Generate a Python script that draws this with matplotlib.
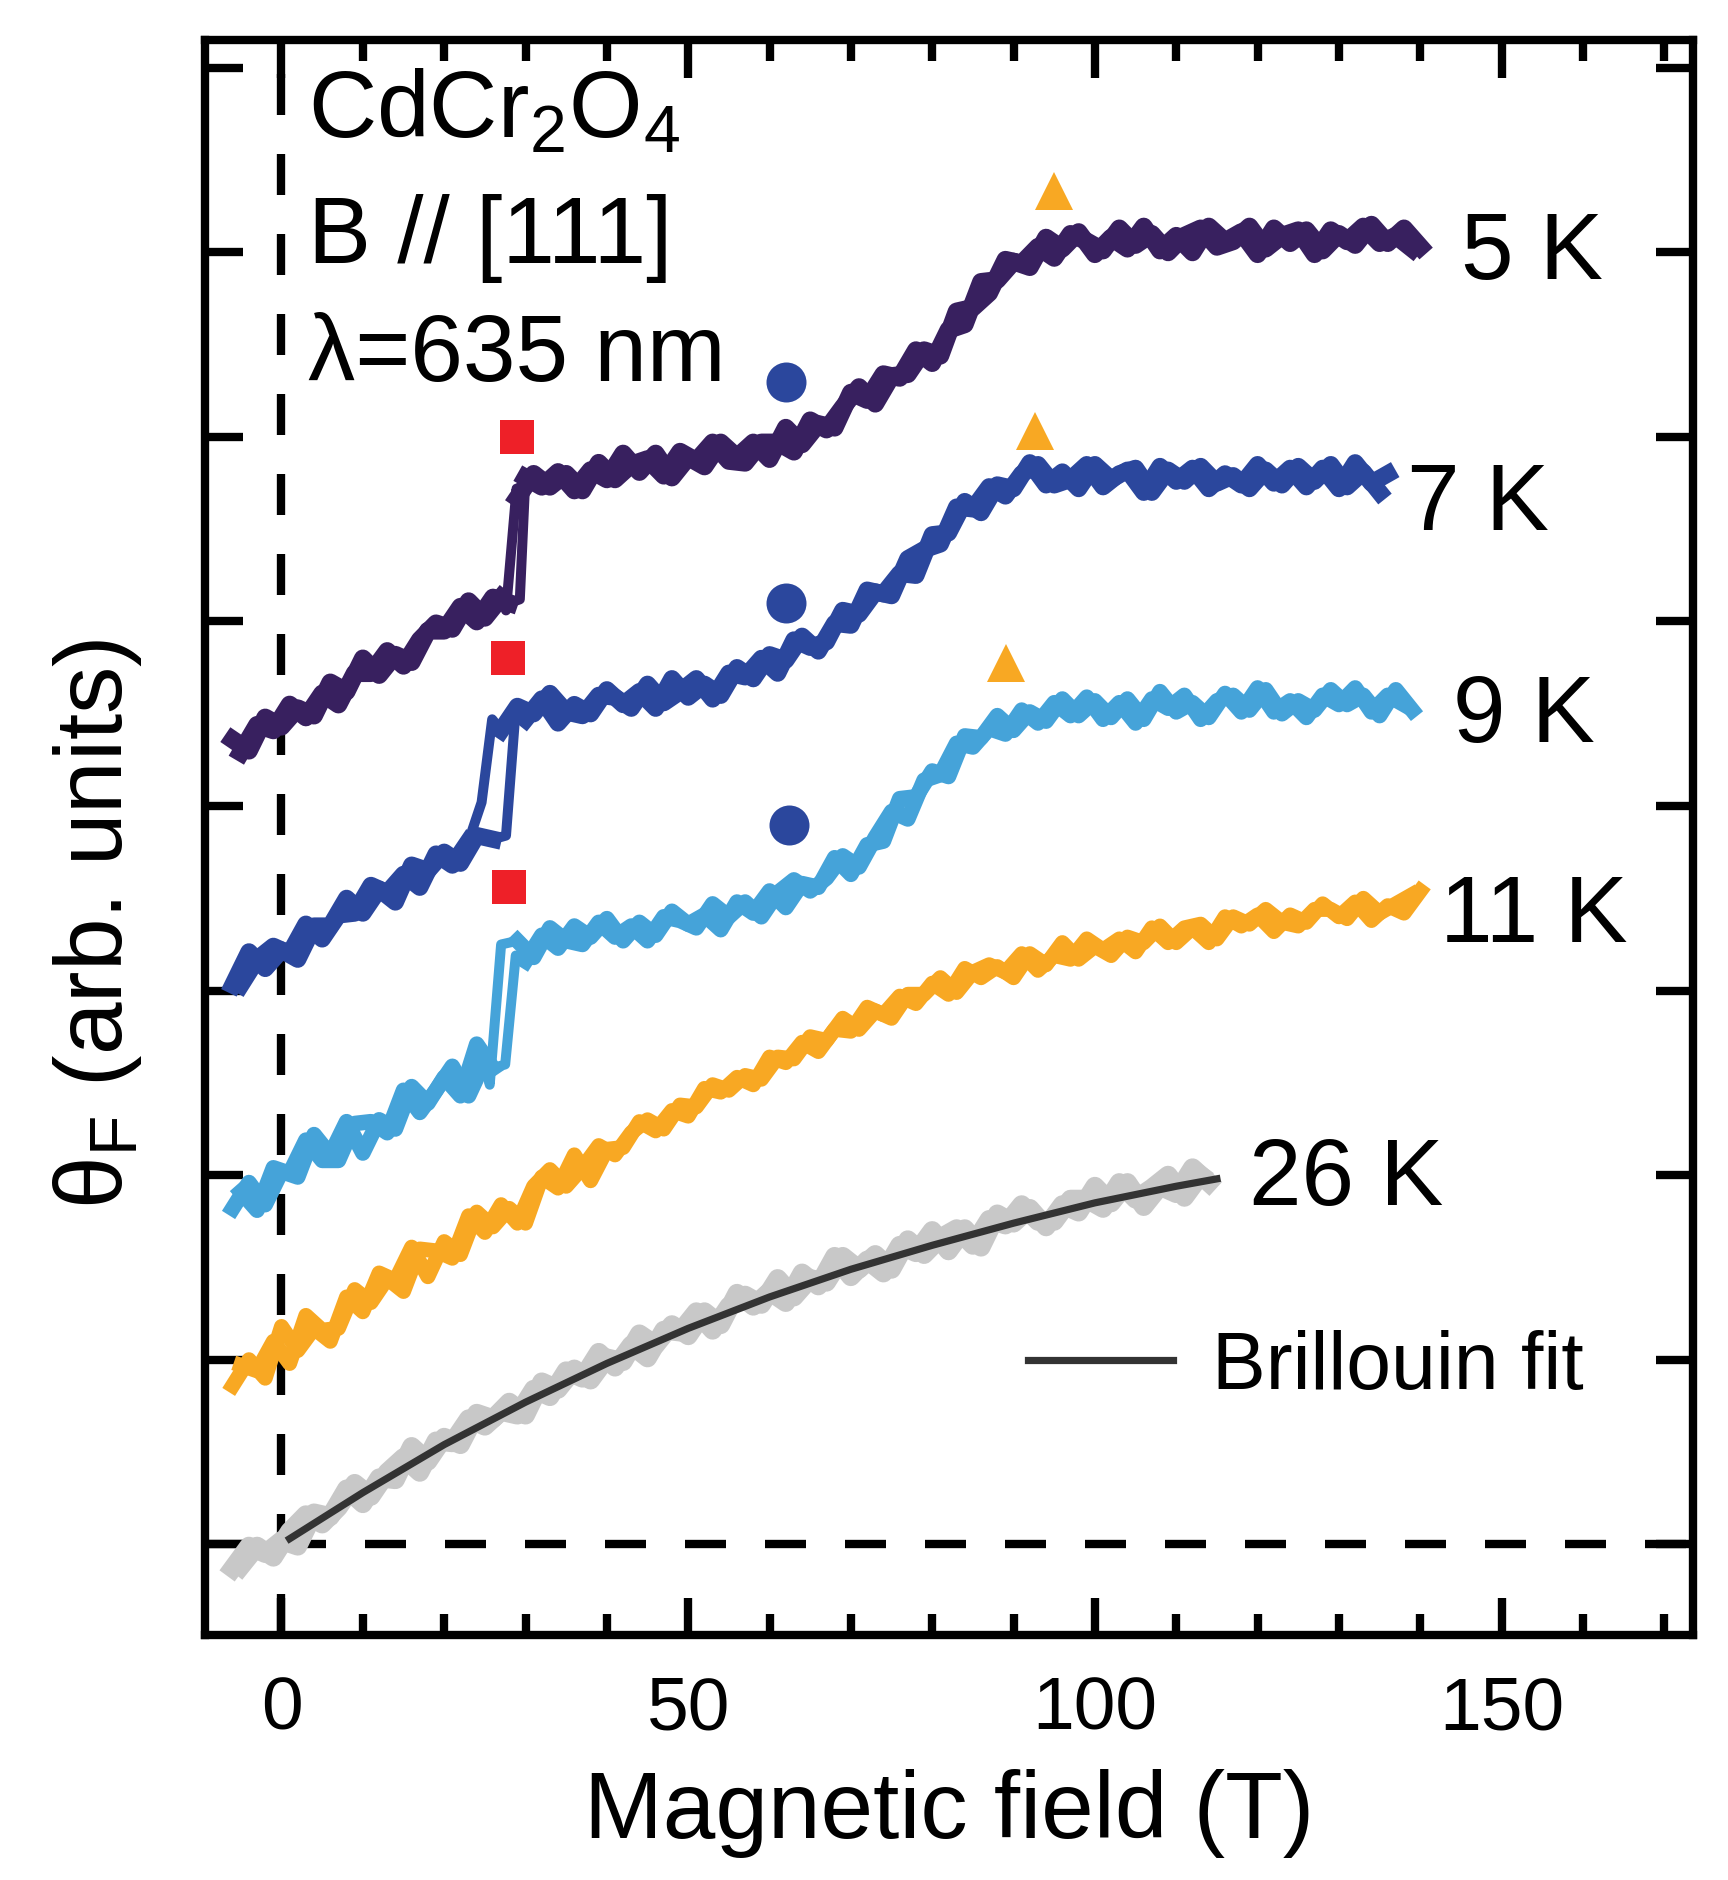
import matplotlib
matplotlib.use('Agg')
import matplotlib.pyplot as plt
from matplotlib.ticker import MultipleLocator, FixedLocator

plt.rcParams['font.family'] = ['Liberation Sans', 'DejaVu Sans']
plt.rcParams['mathtext.fontset'] = 'custom'
plt.rcParams['mathtext.rm'] = 'Liberation Sans'
plt.rcParams['mathtext.it'] = 'Liberation Sans:italic'
plt.rcParams['mathtext.default'] = 'regular'

# ---------------- data ----------------
# field points of the up sweep and of the down sweep (T)
field_up = [-6, -4, -2, 0, 2, 4, 6, 8, 10, 12, 14, 16, 18, 20, 22, 24, 26, 28,
            30, 32, 34, 36, 38, 40, 42, 44, 46, 48, 50, 52, 54, 56, 58, 60, 62, 64,
            66, 68, 70, 72, 74, 76, 78, 80, 82, 84, 86, 88, 90, 92, 94, 96, 98, 100,
            102, 104, 106, 108, 110, 112, 114, 116, 118, 120, 122, 124, 126, 128,
            130, 132, 134, 136, 138, 140]
field_down = [-5, -3, -1, 1, 3, 5, 7, 9, 11, 13, 15, 17, 19, 21, 23, 25, 27, 29,
              31, 33, 35, 37, 39, 41, 43, 45, 47, 49, 51, 53, 55, 57, 59, 61, 63, 65,
              67, 69, 71, 73, 75, 77, 79, 81, 83, 85, 87, 89, 91, 93, 95, 97, 99, 101,
              103, 105, 107, 109, 111, 113, 115, 117, 119, 121, 123, 125, 127, 129,
              131, 133, 135, 137, 139]

# 5 K
theta_5K_up = [4.36, 4.30, 4.48, 4.43, 4.53, 4.49, 4.67, 4.62, 4.80, 4.71, 4.82, 4.78,
               4.95, 4.95, 5.08, 5.00, 5.13, 5.10,
               5.78, 5.73, 5.81, 5.71, 5.82, 5.77, 5.91, 5.81, 5.91, 5.78, 5.89, 5.84,
               5.97, 5.89, 5.97, 5.88, 6.05, 5.96, 6.07, 6.05, 6.24, 6.20, 6.34, 6.32,
               6.47, 6.40, 6.58, 6.61, 6.84, 6.85, 6.95, 6.92, 7.08, 7.02, 7.11, 6.99,
               7.08, 7.02, 7.14, 7.01, 7.09, 7.00, 7.14, 7.06, 7.11, 6.99, 7.13, 7.05,
               7.12, 7.01, 7.10, 7.04, 7.15, 7.05, 7.13, 7.03]
theta_5K_down = [4.29, 4.44, 4.41, 4.55, 4.48, 4.61, 4.55, 4.72, 4.72, 4.84, 4.76, 4.90,
                 4.99, 4.96, 5.11, 5.02, 5.13,
                 5.67, 5.80, 5.73, 5.80, 5.71, 5.86, 5.77, 5.85, 5.88, 5.79, 5.92, 5.87,
                 5.97, 5.87, 5.86, 5.97, 5.97, 5.92, 6.09, 6.04, 6.16, 6.27, 6.18, 6.33,
                 6.34, 6.47, 6.44, 6.68, 6.70, 6.78, 6.96, 6.94, 7.03, 6.97, 7.10, 7.06,
                 7.01, 7.13, 7.04, 7.10, 7.00, 7.09, 7.13, 7.03, 7.06, 7.14, 7.02, 7.09,
                 7.12, 6.99, 7.12, 7.06, 7.14, 7.05, 7.09, 7.02]
loop5_up_field = [28, 29.3, 29.9, 30]
loop5_up_theta = [5.10, 5.12, 5.70, 5.78]
loop5_down_field = [29, 28.9, 27.6, 27]
loop5_down_theta = [5.67, 5.72, 5.06, 5.13]

# 7 K
theta_7K_up = [3.03, 3.21, 3.12, 3.22, 3.17, 3.35, 3.35, 3.50, 3.42, 3.55, 3.48, 3.68,
               3.65, 3.75, 3.69, 3.84, 3.82, None,
               4.47, 4.58, 4.45, 4.55, 4.50, 4.63, 4.55, 4.62, 4.53, 4.69, 4.59,
               4.66, 4.60, 4.75, 4.69, 4.82, 4.79, 4.92, 4.84, 4.99, 4.98, 5.17, 5.15,
               5.26, 5.25, 5.47, 5.48, 5.65, 5.59, 5.74, 5.72, 5.86, 5.74, 5.81, 5.72,
               5.85, 5.77, 5.82, 5.70, 5.84, 5.76, 5.83, 5.72, 5.80, 5.74, 5.85, 5.75,
               5.83, 5.73, 5.83, 5.72, 5.86, 5.75, 5.80]
theta_7K_down = [3.03, 3.17, 3.24, 3.20, 3.36, 3.28, 3.41, 3.42, 3.57, 3.53, 3.63, 3.56,
                 3.74, 3.68, 3.81, None,
                 4.41, 4.54, 4.50, 4.61, 4.51, 4.49, 4.60, 4.59, 4.53, 4.66, 4.56, 4.62,
                 4.69, 4.58, 4.72, 4.70, 4.80, 4.72, 4.90, 4.86, 4.89, 5.06, 5.04, 5.16,
                 5.14, 5.34, 5.39, 5.42, 5.62, 5.61, 5.73, 5.68, 5.80, 5.85, 5.74, 5.77,
                 5.85, 5.73, 5.80, 5.83, 5.70, 5.82, 5.76, 5.84, 5.75, 5.79, 5.72, 5.82,
                 5.74, 5.84, 5.76, 5.85, 5.73, 5.81, 5.70]
loop7_up_field = [26, 27.6, 28.7, 30]
loop7_up_theta = [3.82, 3.84, 4.47, 4.47]
loop7_down_field = [27, 25.9, 24.6, 23]
loop7_down_theta = [4.41, 4.47, 4.02, 3.81]

# 9 K
theta_9K_up = [1.82, 1.96, 1.84, 2.02, 1.99, 2.22, 2.11, 2.29, 2.12, 2.30, 2.25, 2.48,
               2.39, 2.53, 2.43, 2.71, 2.58, None,
               3.16, 3.30, 3.23, 3.35, 3.29, 3.39, 3.27, 3.37, 3.30, 3.43, 3.36,
               3.41, 3.33, 3.48, 3.42, 3.54, 3.45, 3.58, 3.56, 3.72, 3.63, 3.79, 3.81,
               4.04, 4.05, 4.19, 4.16, 4.38, 4.37, 4.49, 4.41, 4.51, 4.46, 4.58, 4.49,
               4.57, 4.48, 4.58, 4.47, 4.62, 4.51, 4.56, 4.48, 4.61, 4.51, 4.64, 4.51,
               4.57, 4.48, 4.60, 4.55, 4.64, 4.51, 4.60, 4.55]
theta_9K_down = [1.91, 1.81, 2.04, 2.01, 2.19, 2.08, 2.08, 2.28, 2.29, 2.23, 2.46, 2.34,
                 2.46, 2.59, 2.43, 2.62, None,
                 3.27, 3.18, 3.34, 3.27, 3.25, 3.37, 3.29, 3.35, 3.27, 3.40, 3.38, 3.34,
                 3.47, 3.40, 3.48, 3.40, 3.53, 3.60, 3.54, 3.61, 3.73, 3.67, 3.83, 3.97,
                 3.93, 4.14, 4.17, 4.34, 4.32, 4.42, 4.39, 4.52, 4.45, 4.56, 4.49, 4.59,
                 4.47, 4.56, 4.45, 4.58, 4.53, 4.60, 4.47, 4.57, 4.60, 4.52, 4.63, 4.50,
                 4.57, 4.52, 4.63, 4.55, 4.60, 4.49, 4.63, 4.52]
loop9_up_field = [26, 27.5, 28.8, 30]
loop9_up_theta = [2.58, 2.60, 3.19, 3.16]
loop9_down_field = [29, 27.0, 25.6, 25]
loop9_down_theta = [3.27, 3.25, 2.49, 2.62]

# 11 K
theta_11K_up = [0.86, 1.00, 0.90, 1.18, 1.05, 1.17, 1.10, 1.34, 1.26, 1.47, 1.43, 1.61,
                1.45, 1.64, 1.57, 1.80, 1.72, 1.82, 1.74, 1.99, 1.93, 2.11, 1.97, 2.14,
                2.15, 2.29, 2.24, 2.35, 2.32, 2.47, 2.45, 2.53, 2.49, 2.64, 2.61, 2.72,
                2.67, 2.79, 2.78, 2.91, 2.87, 2.97, 2.93, 3.04, 2.98, 3.12, 3.07, 3.13,
                3.07, 3.20, 3.14, 3.26, 3.17, 3.24, 3.19, 3.29, 3.26, 3.35, 3.26, 3.34,
                3.26, 3.40, 3.35, 3.41, 3.32, 3.41, 3.37, 3.47, 3.40, 3.48, 3.38, 3.46,
                3.42, 3.54]
theta_11K_down = [0.97, 0.94, 1.10, 0.98, 1.24, 1.16, 1.17, 1.38, 1.31, 1.44, 1.37, 1.60,
                  1.59, 1.55, 1.78, 1.69, 1.84, 1.74, 1.94, 2.03, 1.94, 2.04, 2.16, 2.11,
                  2.23, 2.30, 2.25, 2.38, 2.37, 2.49, 2.46, 2.54, 2.52, 2.64, 2.63, 2.75,
                  2.73, 2.85, 2.79, 2.89, 2.85, 2.98, 2.98, 3.07, 2.99, 3.10, 3.14, 3.10,
                  3.20, 3.11, 3.19, 3.17, 3.28, 3.22, 3.28, 3.21, 3.34, 3.26, 3.34, 3.36,
                  3.28, 3.40, 3.36, 3.44, 3.37, 3.35, 3.44, 3.44, 3.39, 3.50, 3.42, 3.47,
                  3.52]

# 26 K
theta_26K_up = [-0.13, -0.01, -0.05, 0.02, -0.01, 0.17, 0.15, 0.30, 0.22, 0.36, 0.35,
                0.53, 0.45, 0.58, 0.54, 0.71, 0.68, 0.77, 0.70, 0.88, 0.84, 0.95, 0.89,
                1.01, 0.99, 1.14, 1.08, 1.19, 1.13, 1.26, 1.19, 1.36, 1.29, 1.37, 1.31,
                1.47, 1.40, 1.56, 1.45, 1.54, 1.47, 1.62, 1.58, 1.70, 1.59, 1.71, 1.61,
                1.79, 1.74, 1.82, 1.72, 1.84, 1.80, 1.94, 1.85, 1.96, 1.83, 1.94, 1.90,
                2.04, 1.96]
theta_26K_down = [-0.12, -0.01, -0.07, 0.07, 0.16, 0.11, 0.20, 0.33, 0.26, 0.39, 0.47,
                  0.39, 0.56, 0.55, 0.68, 0.64, 0.72, 0.70, 0.84, 0.80, 0.94, 0.90, 1.04,
                  0.96, 1.08, 1.01, 1.16, 1.15, 1.26, 1.16, 1.29, 1.35, 1.30, 1.44, 1.34,
                  1.44, 1.42, 1.56, 1.49, 1.57, 1.49, 1.65, 1.57, 1.66, 1.71, 1.62, 1.76,
                  1.73, 1.84, 1.75, 1.75, 1.87, 1.87, 1.82, 1.96, 1.87, 1.93, 2.00, 1.88,
                  2.00]

fit_field = [1, 10, 20, 30, 40, 50, 60, 70, 80, 90, 100, 110, 115]
fit_theta = [0.03, 0.28, 0.54, 0.77, 0.98, 1.17, 1.34, 1.49, 1.62, 1.74, 1.85, 1.94, 1.98]

square_field = [28.95, 27.85, 27.97]
square_theta = [6.00, 4.80, 3.56]
circle_field = [61.97, 61.97, 62.39]
circle_theta = [6.30, 5.10, 3.90]
triangle_field = [94.97, 92.63, 89.05]
triangle_theta = [7.335, 6.03, 4.775]

temp_labels = ['5 K', '7 K', '9 K', '11 K', '26 K']
temp_label_field = [145.0, 138.4, 144.0, 142.4, 118.9]
temp_label_theta = [6.86, 5.50, 4.355, 3.27, 1.845]

info_lines = ['CdCr$_\\mathrm{2}$O$_\\mathrm{4}$', 'B // [111]', '\u03bb=635 nm']
info_theta = [7.63, 6.95, 6.31]

c5, c7, c9, c11, c26 = '#38205f', '#2b479d', '#45a3d9', '#f8a823', '#c8c8c8'
cfit = '#333333'

# ---------------- figure ----------------
fig = plt.figure(figsize=(8.64, 9.405), dpi=200)
L, R, T, B = 0.11863, 0.97946, 0.97794, 0.13000
ax = fig.add_axes([L, B, R - L, T - B])
ax.set_xlim(-9.405, 173.47)
ax.set_ylim(-0.494, 8.148)

dash = (0, (4.92, 4.68))
ax.axhline(0, color='black', lw=3, linestyle=dash, zorder=1)
ax.axvline(0, color='black', lw=3, linestyle=dash, zorder=1)


def segments(fields, theta):
    """split a sweep at the None entries (field jump drawn by the loop arrays)"""
    segs, xs, ys = [], [], []
    for f, t in zip(fields, theta):
        if t is None:
            if xs:
                segs.append((xs, ys))
            xs, ys = [], []
        else:
            xs.append(f)
            ys.append(t)
    if xs:
        segs.append((xs, ys))
    return segs


def draw(up, down, color, lw, split_up=None, split_down=None, loops=()):
    kw = dict(color=color, lw=lw, zorder=3)
    for fields, theta, split in ((field_up, up, split_up), (field_down, down, split_down)):
        fields = fields[:len(theta)]
        if split is None:
            parts = segments(fields, theta)
        else:
            parts = [(fields[:split], theta[:split]), (fields[split:], theta[split:])]
        for xs, ys in parts:
            ax.plot(xs, ys, **kw)
    for lx, ly in loops:
        ax.plot(lx, ly, color=color, lw=3.6, zorder=3)


draw(theta_26K_up, theta_26K_down, c26, 6.8)
ax.plot(fit_field, fit_theta, color=cfit, lw=2.6, zorder=4, label='Brillouin fit')
draw(theta_11K_up, theta_11K_down, c11, 5.4)
draw(theta_9K_up, theta_9K_down, c9, 5.6,
     loops=[(loop9_up_field, loop9_up_theta), (loop9_down_field, loop9_down_theta)])
draw(theta_7K_up, theta_7K_down, c7, 6.2,
     loops=[(loop7_up_field, loop7_up_theta), (loop7_down_field, loop7_down_theta)])
draw(theta_5K_up, theta_5K_down, c5, 6.4, split_up=18, split_down=17,
     loops=[(loop5_up_field, loop5_up_theta), (loop5_down_field, loop5_down_theta)])

ax.plot(square_field, square_theta, 's', ms=12, mew=0, color='#ee2028', zorder=5)
ax.plot(circle_field, circle_theta, 'o', ms=14.4, mew=0, color='#2b479d', zorder=5)
ax.plot(triangle_field, triangle_theta, '^', ms=14, mew=0, color='#f8a823', zorder=5)

for lab, xf, yt in zip(temp_labels, temp_label_field, temp_label_theta):
    ax.text(xf, yt, lab, fontsize=34, ha='left', va='baseline', zorder=6)
for lab, yt in zip(info_lines, info_theta):
    ax.text(3.3, yt, lab, fontsize=34, ha='left', va='baseline', zorder=6)

leg = ax.legend(loc='center left', bbox_to_anchor=(0.5533, 0.1683), frameon=False,
                fontsize=29, handlelength=1.8, handletextpad=0.48,
                borderpad=0, borderaxespad=0)

# axes styling
for sp in ax.spines.values():
    sp.set_linewidth(3)
ax.xaxis.set_major_locator(MultipleLocator(50))
ax.xaxis.set_minor_locator(MultipleLocator(10))
ax.yaxis.set_major_locator(FixedLocator([0, 1, 2, 3, 4, 5, 6, 7, 8]))
ax.tick_params(which='both', direction='in', top=True, right=True, width=3)
ax.tick_params(which='major', length=13.5, labelsize=27, pad=14)
ax.tick_params(which='minor', length=7.4)
ax.tick_params(axis='y', labelleft=False)

ax.text(0.5, -0.1263, 'Magnetic field (T)', fontsize=34, ha='center', va='baseline',
        transform=ax.transAxes)
ax.text(-0.056, 0.4467, '\u03b8$_\\mathrm{F}$ (arb. units)', fontsize=34, rotation=90,
        rotation_mode='anchor', ha='center', va='baseline', transform=ax.transAxes)

fig.savefig('out.png', dpi=200)
